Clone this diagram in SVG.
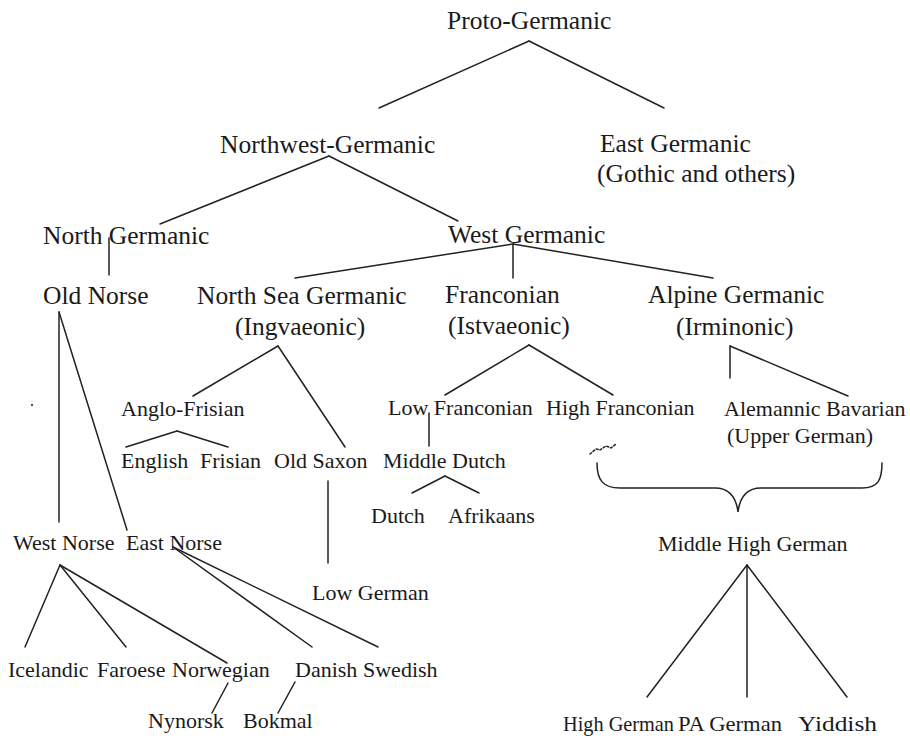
<svg xmlns="http://www.w3.org/2000/svg" width="910" height="738" viewBox="0 0 910 738">
<style>
text{font-family:"Liberation Serif","Times New Roman",serif;fill:#1a1a1a}
.L{font-size:25.5px}
.S{font-size:22px}
.c line,.c path{stroke:#222;stroke-width:1.5;fill:none;stroke-linecap:round}
</style>
<rect width="910" height="738" fill="#fff"/>
<g class="c" id="connectors">
<line x1="529" y1="41" x2="379" y2="108"/>
<line x1="529" y1="41" x2="664" y2="108"/>
<line x1="329" y1="156" x2="160" y2="224"/>
<line x1="329" y1="156" x2="458" y2="221"/>
<line x1="109" y1="238" x2="109" y2="275"/>
<line x1="513" y1="244" x2="295" y2="278"/>
<line x1="513" y1="244" x2="513" y2="278"/>
<line x1="513" y1="244" x2="713" y2="278"/>
<line x1="59" y1="312" x2="59" y2="522"/>
<line x1="59" y1="312" x2="127" y2="530"/>
<line x1="278" y1="346" x2="193" y2="396"/>
<line x1="278" y1="346" x2="345" y2="447"/>
<line x1="177" y1="431" x2="126" y2="447"/>
<line x1="177" y1="431" x2="228" y2="447"/>
<line x1="328" y1="481" x2="328" y2="563"/>
<line x1="529" y1="345" x2="445" y2="395"/>
<line x1="529" y1="345" x2="613" y2="395"/>
<line x1="429" y1="413" x2="429" y2="446"/>
<line x1="445" y1="476" x2="412" y2="493"/>
<line x1="445" y1="476" x2="479" y2="493"/>
<line x1="730" y1="346" x2="730" y2="378"/>
<line x1="730" y1="346" x2="848" y2="396"/>
<path d="M597,463 C597,480 603,488 620,488 L715,488 C728,488 736,496 738,512 C740,496 748,488 761,488 L862,488 C878,488 882,480 882,463"/>
<path d="M590,454 L596,449 L600,450 L606,446 L611,448 L616,444" stroke="#888" stroke-width="1" stroke-dasharray="2 2"/>
<line x1="747" y1="565" x2="647" y2="697"/>
<line x1="747" y1="565" x2="747" y2="697"/>
<line x1="747" y1="565" x2="847" y2="697"/>
<line x1="60" y1="565" x2="25" y2="647"/>
<line x1="60" y1="565" x2="126" y2="647"/>
<line x1="60" y1="565" x2="227" y2="663"/>
<line x1="173" y1="547" x2="312" y2="647"/>
<line x1="173" y1="547" x2="378" y2="647"/>
<line x1="228" y1="683" x2="212" y2="713"/>
<line x1="295" y1="682" x2="278" y2="713"/>
</g>
<circle cx="32" cy="405" r="1.2" fill="#555"/>
<g id="proto"><text class="L" x="447" y="29">Proto-Germanic</text></g>
<g id="northwest"><text class="L" x="220" y="153">Northwest-Germanic</text></g>
<g id="east"><text class="L" x="600" y="152">East Germanic</text><text class="L" x="597" y="182">(Gothic and others)</text></g>
<g id="northgerm"><text class="L" x="43" y="244">North Germanic</text></g>
<g id="westgerm"><text class="L" x="448" y="243">West Germanic</text></g>
<g id="oldnorse"><text class="L" x="43" y="304">Old Norse</text></g>
<g id="northsea"><text class="L" x="197" y="304">North Sea Germanic</text><text class="L" x="235" y="335">(Ingvaeonic)</text></g>
<g id="franconian"><text class="L" x="445" y="303">Franconian</text><text class="L" x="448" y="334">(Istvaeonic)</text></g>
<g id="alpine"><text class="L" x="648" y="303">Alpine Germanic</text><text class="L" x="676" y="335">(Irminonic)</text></g>
<g id="anglofrisian"><text class="S" x="121" y="416">Anglo-Frisian</text></g>
<g id="english"><text class="S" x="121" y="468">English</text></g>
<g id="frisian"><text class="S" x="200" y="468">Frisian</text></g>
<g id="oldsaxon"><text class="S" x="274" y="468">Old Saxon</text></g>
<g id="lowfranconian"><text class="S" x="388" y="415">Low Franconian</text></g>
<g id="highfranconian"><text class="S" x="546" y="415">High Franconian</text></g>
<g id="alemannic"><text class="S" x="724" y="416">Alemannic Bavarian</text><text class="S" x="727" y="443">(Upper German)</text></g>
<g id="middledutch"><text class="S" x="383" y="468">Middle Dutch</text></g>
<g id="dutch"><text class="S" x="371" y="523">Dutch</text></g>
<g id="afrikaans"><text class="S" x="448" y="523">Afrikaans</text></g>
<g id="westnorse"><text class="S" x="13" y="550">West Norse</text></g>
<g id="eastnorse"><text class="S" x="126" y="550">East Norse</text></g>
<g id="mhg"><text class="S" x="658" y="551">Middle High German</text></g>
<g id="lowgerman"><text class="S" x="312" y="600">Low German</text></g>
<g id="icelandic"><text class="S" x="8" y="677">Icelandic</text></g>
<g id="faroese"><text class="S" x="97" y="677">Faroese</text></g>
<g id="norwegian"><text class="S" x="172" y="677">Norwegian</text></g>
<g id="danish"><text class="S" x="295" y="677">Danish</text></g>
<g id="swedish"><text class="S" x="363" y="677">Swedish</text></g>
<g id="nynorsk"><text class="S" x="148" y="728">Nynorsk</text></g>
<g id="bokmal"><text class="S" x="243" y="728">Bokmal</text></g>
<g id="highgerman"><text class="S" x="563" y="731" textLength="111" lengthAdjust="spacingAndGlyphs">High German</text></g>
<g id="pagerman"><text class="S" x="678" y="731" textLength="104" lengthAdjust="spacingAndGlyphs">PA German</text></g>
<g id="yiddish"><text class="S" x="798" y="731" textLength="79" lengthAdjust="spacingAndGlyphs">Yiddish</text></g>
</svg>
